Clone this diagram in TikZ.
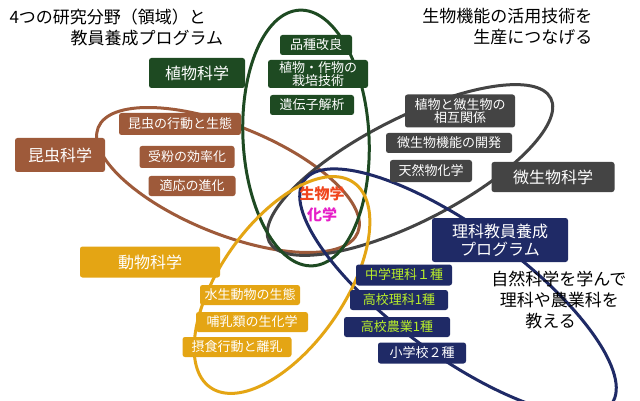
\documentclass[tikz,border=0pt]{standalone}
\usepackage{fontspec}
\setmainfont{Noto Sans CJK JP}
\definecolor{cg}{HTML}{1E4A22}
\definecolor{cb}{HTML}{9E5A3A}
\definecolor{cd}{HTML}{444444}
\definecolor{cn}{HTML}{1F2A66}
\definecolor{cy}{HTML}{E4A514}
\definecolor{lg}{HTML}{B8EE2A}
\begin{document}
\begin{tikzpicture}[x=1pt,y=-1pt,
  ring/.style={line width=3pt},
  bx/.style={rounded corners=2.5pt,text=white,font=\fontsize{13}{14}\selectfont,align=center,inner sep=1pt},
  big/.style={bx,font=\fontsize{16}{17}\selectfont}]
\useasboundingbox (0,0) rectangle (640,401);
\fill[white] (0,0) rectangle (640,401);
% ellipses
\draw[ring,cb,rotate around={-22:(228,180)}] (228,180) ellipse (140 and 54);
\draw[ring,cd,rotate around={27:(410,170)}] (410,170) ellipse (158 and 52);
\draw[ring,cg,rotate around={3:(306,138)}] (306,138) ellipse (63 and 128);
\draw[ring,cn,rotate around={-36:(458,292)}] (458,292) ellipse (190 and 64);
\draw[ring,cy,rotate around={55:(282,285)}] (282,285) ellipse (125 and 62);
% titles
\node[anchor=north west,align=left,font=\fontsize{17}{21}\selectfont] (t1) at (6,5) {4つの研究分野（領域）と\\\hspace{3.6em}教員養成プログラム};
\node[anchor=north east,align=right,font=\fontsize{17}{21}\selectfont] (t2) at (596,5) {生物機能の活用技術を\\生産につなげる};
\node[anchor=north east,align=left,font=\fontsize{17}{21}\selectfont] (t3) at (630,268) {自然科学を学んで\\\hspace{0.5em}理科や農業科を\\\hspace{2em}教える};
% green
\node[big,fill=cg,minimum width=96pt,minimum height=30pt] (g0) at (197,73) {植物科学};
\node[bx,fill=cg,minimum width=72pt,minimum height=20pt] (g1) at (316,45) {品種改良};
\node[bx,fill=cg,minimum width=100pt,minimum height=28pt,font=\fontsize{13}{13}\selectfont] (g2) at (318,74) {植物・作物の\\栽培技術};
\node[bx,fill=cg,minimum width=84pt,minimum height=20pt] (g3) at (312,105) {遺伝子解析};
% brown
\node[big,fill=cb,minimum width=90pt,minimum height=34pt] (b0) at (60,155) {昆虫科学};
\node[bx,fill=cb,minimum width=122pt,minimum height=22pt] (b1) at (180,124) {昆虫の行動と生態};
\node[bx,fill=cb,minimum width=95pt,minimum height=22pt] (b2) at (187,157) {受粉の効率化};
\node[bx,fill=cb,minimum width=87pt,minimum height=20pt] (b3) at (192,186) {適応の進化};
% gray
\node[bx,fill=cd,minimum width=110pt,minimum height=33pt,font=\fontsize{13}{13}\selectfont] (d1) at (460,111) {植物と微生物の\\相互関係};
\node[bx,fill=cd,minimum width=126pt,minimum height=20pt] (d2) at (449,143) {微生物機能の開発};
\node[bx,fill=cd,minimum width=82pt,minimum height=22pt] (d3) at (431,171) {天然物化学};
\node[big,fill=cd,minimum width=123pt,minimum height=30pt] (d0) at (553,177) {微生物科学};
% navy
\node[big,fill=cn,minimum width=136pt,minimum height=44pt,font=\fontsize{16}{18}\selectfont] (n0) at (500,240) {理科教員養成\\プログラム};
\node[bx,fill=cn,minimum width=96pt,minimum height=21pt,text=lg] (n1) at (404,275) {中学理科１種};
\node[bx,fill=cn,minimum width=98pt,minimum height=20pt,text=lg] (n2) at (399,300) {高校理科1種};
\node[bx,fill=cn,minimum width=106pt,minimum height=20pt,text=lg] (n3) at (397,327) {高校農業1種};
\node[bx,fill=cn,minimum width=88pt,minimum height=21pt] (n4) at (422,353) {小学校２種};
% yellow
\node[big,fill=cy,minimum width=140pt,minimum height=31pt] (y0) at (150,262) {動物科学};
\node[bx,fill=cy,minimum width=100pt,minimum height=20pt] (y1) at (250,295) {水生動物の生態};
\node[bx,fill=cy,minimum width=112pt,minimum height=20pt] (y2) at (252,322) {哺乳類の生化学};
\node[bx,fill=cy,minimum width=109pt,minimum height=20pt] (y3) at (237,347) {摂食行動と離乳};
% center
\node[font=\bfseries\fontsize{15}{16}\selectfont,text={rgb,255:red,240;green,70;blue,30}] (c1) at (322,194) {生物学};
\node[font=\bfseries\fontsize{15}{16}\selectfont,text={rgb,255:red,230;green,30;blue,200}] (c2) at (322,215) {化学};
\end{tikzpicture}
\end{document}
